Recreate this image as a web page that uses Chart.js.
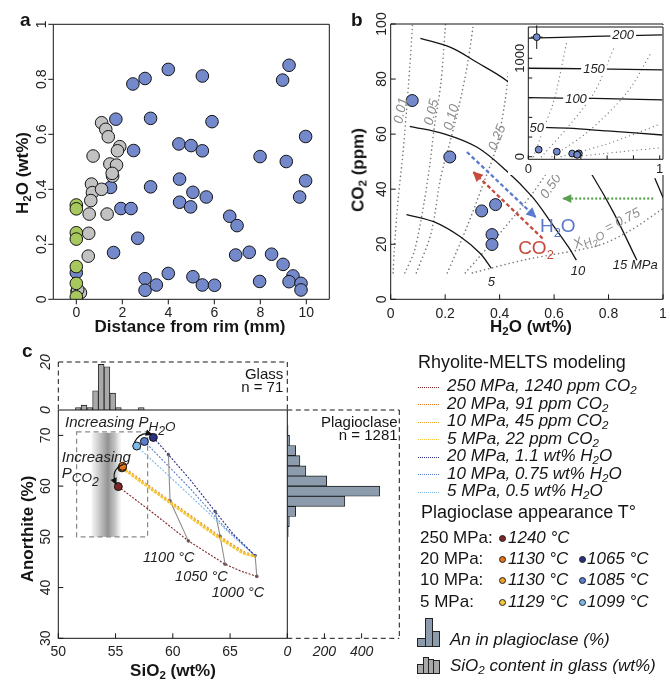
<!DOCTYPE html>
<html lang="en">
<head>
<meta charset="UTF-8">
<title>Figure</title>
<script src="https://cdn.jsdelivr.net/npm/chart.js@4.4.1/dist/chart.umd.min.js"></script>
<style>
  body { margin: 0; background: #fff; }
  #fig { position: relative; width: 670px; height: 680px; overflow: hidden;
         font-family: "Liberation Sans", Arial, sans-serif; color: #151515; }
  #fig canvas { position: absolute; left: 0; top: 0; }
  .t { position: absolute; white-space: nowrap; line-height: 1; }
  .b { font-weight: bold; }
  .i { font-style: italic; }
  .ttl { font-weight: bold; font-size: 17px; }
  .rot { transform: translate(-50%, -50%) rotate(-90deg); }
  .hc { transform: translateX(-50%); }
  sub { font-size: 0.68em; vertical-align: -0.3em; line-height: 0; }
  sub sub { font-size: 0.8em; }
  .ln { position: absolute; width: 21px; height: 0; border-top: 1.3px dotted; }
  .dot { position: absolute; width: 5px; height: 5px; border-radius: 50%; border: 0.8px solid #222; }
  .bar { position: absolute; border: 1px solid #222; box-sizing: border-box; }
</style>
</head>
<body>
<div id="fig">
  <canvas id="ca" width="670" height="680"></canvas>
  <canvas id="cb" width="670" height="680"></canvas>
  <canvas id="cbi" width="670" height="680"></canvas>
  <canvas id="cct" width="670" height="680"></canvas>
  <canvas id="ccr" width="670" height="680"></canvas>
  <canvas id="cc" width="670" height="680"></canvas>

  <div class="t b" style="left:20px;top:10px;font-size:19px">a</div>
  <div class="t b" style="left:351px;top:10px;font-size:19px">b</div>
  <div class="t b" style="left:22px;top:341px;font-size:19px">c</div>

  <div class="t ttl rot" style="left:22px;top:173px">H<sub>2</sub>O (wt%)</div>
  <div class="t ttl hc" style="left:190px;top:318px">Distance from rim (mm)</div>
  <div class="t ttl rot" style="left:358px;top:170px">CO<sub>2</sub> (ppm)</div>
  <div class="t ttl hc" style="left:531px;top:318px">H<sub>2</sub>O (wt%)</div>
  <div class="t ttl rot" style="left:27px;top:529px">Anorthite (%)</div>
  <div class="t ttl hc" style="left:173px;top:662px">SiO<sub>2</sub> (wt%)</div>

  <div id="legend"></div>
</div>

<script>
const W = 670, H = 680;
const FONT = '"Liberation Sans", Arial, sans-serif';

// ---------- panel a : H2O vs distance from rim ----------
const aBlue = [[2.46,0.783],[2.99,0.803],[4.0,0.836],[5.48,0.812],[8.97,0.797],[9.25,0.851],
  [1.72,0.655],[3.23,0.658],[5.9,0.646],[9.97,0.592],[4.46,0.565],[4.99,0.559],[5.48,0.540],
  [2.49,0.541],[7.99,0.519],[9.13,0.501],[4.49,0.437],[9.97,0.431],[3.23,0.409],[1.49,0.407],
  [5.07,0.389],[5.65,0.372],[9.71,0.372],[4.49,0.353],[4.97,0.336],[1.94,0.330],[2.38,0.330],
  [6.67,0.302],[6.99,0.268],[2.67,0.222],[1.62,0.170],[6.93,0.161],[7.52,0.171],[8.49,0.164],
  [8.99,0.127],[9.42,0.085],[9.25,0.064],[9.77,0.058],[9.77,0.034],[7.97,0.065],[4.0,0.094],
  [2.99,0.075],[2.99,0.033],[3.48,0.052],[5.07,0.082],[5.48,0.052],[6.01,0.051],[0,0.097]];
const aGray = [[1.10,0.642],[1.28,0.618],[1.39,0.591],[0.73,0.521],[1.89,0.555],[1.79,0.540],
  [1.46,0.492],[1.75,0.488],[1.58,0.448],[1.56,0.458],[0.66,0.419],[0.70,0.388],[1.10,0.400],
  [0.63,0.359],[0.56,0.310],[1.34,0.310],[0.54,0.240],[0.52,0.157],[0.03,0.028],[0.18,0.024],
  [0.06,0.035]];
const aGreen = [[0,0.343],[0,0.329],[0,0.242],[0,0.219],[0,0.119],[0,0.058],[0,0.009]];
const aXTicks = [0, 2, 4, 6, 8, 10];
const aXLabels = ['0', '2', '4', '6', '8', '10'];
const aYTicks = [0, 0.2, 0.4, 0.6, 0.8, 1];
const aYLabels = ['0', '0.2', '0.4', '0.6', '0.8', '1'];

// ---------- panel b : CO2 vs H2O ----------
const bPoints = [[0.079,72.2],[0.217,51.7],[0.334,32.1],[0.385,34.4],[0.372,23.5],[0.372,19.9]];
const bIsobar5 = [[0.058,30.8],[0.16,28.1],[0.256,22.7],[0.328,16.7],[0.37,11.2]];
const bIsobar10 = [[0.07,62.8],[0.196,60.1],[0.316,55.3],[0.424,46.8],[0.52,37.2],[0.592,27.5],[0.652,19.1],[0.682,14.2]];
const bIsobar15 = [[0.109,94.8],[0.22,91.5],[0.316,86.1],[0.425,79.5],[0.55,69],[0.66,57],[0.748,43.8],[0.82,31.2],[0.904,14.2]];
const bIsobar20 = [[0.97,44],[1.0,37]];
const bX001 = [[0.009,9.6],[0.013,17.9],[0.027,36],[0.045,52.9],[0.058,68.6],[0.07,84.3],[0.079,98.2],[0.082,105]];
const bX005 = [[0.052,9.6],[0.088,17.9],[0.124,36],[0.145,50],[0.16,62.5],[0.184,78.3],[0.2,98.2],[0.205,105]];
const bX010 = [[0.094,9.6],[0.148,23.9],[0.184,44.4],[0.22,58],[0.25,69.8],[0.28,84.3],[0.301,98.2],[0.306,105]];
const bX025 = [[0.208,9.6],[0.28,26.3],[0.34,42],[0.388,55.3],[0.42,72],[0.436,86],[0.454,98.8],[0.46,105]];
const bX050 = [[0.274,9.6],[0.4,23.9],[0.52,38.4],[0.6,50],[0.7,66]];
const bX075 = [[0.3,9.6],[0.5,14.5],[0.76,19.5],[0.88,25],[1.0,33]];
const bArrowH2O = [[0.28,53.5],[0.532,29.9]];
const bArrowCO2 = [[0.558,22.1],[0.304,46.2]];
const bArrowGreen = [[0.964,36.6],[0.634,36.6]];
const bXTicks = [0, 0.2, 0.4, 0.6, 0.8, 1];
const bXLabels = ['0', '0.2', '0.4', '0.6', '0.8', '1'];
const bYTicks = [0, 20, 40, 60, 80, 100];
const bYLabels = ['0', '20', '40', '60', '80', '100'];

// inset of panel b (full CO2 range)
const insetHigh = [[0.064,1215]];
const insetHighErr = [[0.045,120]];
const insetP50 = [[0,302],[0.3,290],[0.6,262],[1.02,221]];
const insetP100 = [[0,600],[0.5,592],[1.02,577]];
const insetP150 = [[0,899],[0.5,893],[1.02,882]];
const insetP200 = [[0,1204],[0.5,1222],[1.02,1238]];
const insetX1 = [[0.04,0],[0.12,300],[0.18,508],[0.216,678],[0.29,1153]];
const insetX2 = [[0.1,0],[0.3,300],[0.5,650],[0.66,1130]];
const insetX3 = [[0.18,0],[0.45,250],[0.75,650],[0.94,1068]];
const insetX4 = [[0.25,0],[0.6,130],[1.0,330]];
const insetX5 = [[0.35,0],[0.7,50],[1.0,90]];
const insetXTicks = [0, 0.2, 0.4, 0.6, 0.8, 1];
const insetXLabels = ['0', '', '', '', '', '1'];
const insetYTicks = [0, 200, 400, 600, 800, 1000];
const insetYLabels = ['0', '', '', '', '', '1000'];

// ---------- panel c : An vs SiO2 (MELTS) ----------
const c250 = [[55.24,59.9],[58.45,54.4],[61.36,49.2],[64.57,44.6],[66.0,43.2],[67.34,42.2]];
const c20co2 = [[55.62,63.9],[59.76,57.1],[64.13,50.1],[66.17,47.1],[67.19,46.3]];
const c10co2 = [[55.6,63.7],[59.8,56.9],[64.2,49.9],[66.3,46.9],[67.2,46.2]];
const c5co2 = [[55.55,63.6],[59.7,56.8],[64.1,49.7],[66.1,46.8],[67.2,46.1]];
const c20h2o = [[58.3,69.6],[59.62,66.2],[61.5,61.3],[63.7,55.0],[65.3,50.5],[67.19,46.3]];
const c10h2o = [[57.52,68.8],[61.36,59.9],[64.57,51.8],[67.19,46.3]];
const c5h2o = [[56.85,67.9],[62.24,56.6],[65.44,49.7],[67.19,46.3]];
const cT1100 = [[59.62,66.2],[59.76,57.1],[61.36,49.2]];
const cT1050 = [[63.7,55.0],[64.13,50.1],[64.57,44.6]];
const cT1000 = [[67.19,46.3],[67.34,42.2]];
const cAppear = [[55.24,59.9],[55.55,63.6],[55.6,63.7],[55.62,63.9],[56.85,67.9],[57.52,68.8],[58.3,69.6]];
const cBand = [52.9, 55.5, 50, 70.5];
const cBox = [51.6, 57.8, 50, 70.7];
const cArrowH2O = [[56.64,68.6],[57.14,70.9],[58.16,70.2]];
const cArrowCO2 = [[55.68,64.3],[54.5,63.2],[55.04,60.4]];
const cXTicks = [50, 55, 60, 65];
const cXLabels = ['50', '55', '60', '65'];
const cYTicks = [30, 40, 50, 60, 70];
const cYLabels = ['30', '40', '50', '60', '70'];

// histograms
const glassBins = [51.75,52.25,52.75,53.25,53.75,54.25,54.75,55.25,57.25];
const glassCounts = [1,2,1,8,19,18,7,1,1];
const plagBins = [51,53,55,57,59,61,63,65,67,69,71];
const plagCounts = [5,11,45,310,498,212,100,68,45,12,4];
const glassYTicks = [0, 20];
const plagXTicks = [0, 200, 400];

// colours
const BLUE = '#7389cb', GRAY = '#c2c2c2', GREEN = '#a6c85c';
const colMelts = {
  r250: '#7e2626', o20: '#e2741e', o10: '#efa22a', o5: '#f4c63a',
  b20: '#2b3180', b10: '#5a7dcc', b5: '#7db9e6'
};

// ---------- helpers ----------
function xy(arr) { return arr.map(p => ({x: p[0], y: p[1]})); }

function parseRich(s) {
  const out = []; let lvl = 0, buf = '';
  const flush = () => { if (buf) { out.push({t: buf, l: lvl}); buf = ''; } };
  for (let i = 0; i < s.length; i++) {
    const c = s[i];
    if (c === '_' && s[i + 1] === '{') { flush(); lvl++; i++; }
    else if (c === '}') { flush(); lvl--; }
    else if (c === '_') { flush(); out.push({t: s[i + 1], l: lvl + 1}); i++; }
    else buf += c;
  }
  flush();
  return out;
}

// draws text with subscripts; o = {size, style, weight, color, align, rot, base, bg, sub}
function drawRich(ctx, s, x, y, o) {
  const parts = parseRich(s);
  const k = o.sub || 0.68;
  const fnt = l => `${o.style || 'normal'} ${o.weight || 'normal'} ${o.size * Math.pow(k, l)}px ${FONT}`;
  let w = 0;
  parts.forEach(p => { ctx.font = fnt(p.l); p.w = ctx.measureText(p.t).width; w += p.w; });
  ctx.save();
  ctx.translate(x, y);
  if (o.rot) ctx.rotate(-o.rot * Math.PI / 180);
  let cx = o.align === 'center' ? -w / 2 : o.align === 'right' ? -w : 0;
  const dy = o.base === 'middle' ? o.size * 0.36 : 0;
  if (o.bg) { ctx.fillStyle = '#fff'; ctx.fillRect(cx - 2, dy - o.size * 0.8, w + 4, o.size * 0.95); }
  ctx.fillStyle = o.color || '#151515';
  ctx.textAlign = 'left'; ctx.textBaseline = 'alphabetic';
  parts.forEach(p => { ctx.font = fnt(p.l); ctx.fillText(p.t, cx, dy + p.l * o.size * 0.28); cx += p.w; });
  ctx.restore();
}

function lineDs(arr, color, width, dash, extra) {
  return Object.assign({data: xy(arr), showLine: true, borderColor: color, borderWidth: width,
    borderDash: dash || [], pointRadius: 0, fill: false, tension: 0}, extra || {});
}
const DOTS = {borderDash: [0.01, 4.2], borderCapStyle: 'round'};

// box + ticks + tick labels, positioned with the chart's own scales
function frame(cfg) {
  return {
    id: 'frame',
    afterDraw(chart) {
      const {ctx, chartArea: a, scales: {x, y}} = chart;
      ctx.save();
      ctx.strokeStyle = '#151515'; ctx.lineWidth = 1;
      const segs = {top: [a.left, a.top, a.right, a.top], right: [a.right, a.top, a.right, a.bottom],
        bottom: [a.left, a.bottom, a.right, a.bottom], left: [a.left, a.top, a.left, a.bottom]};
      for (const k in cfg.edges) {
        const e = cfg.edges[k]; if (!e) continue;
        ctx.setLineDash(e === 'dash' ? [5, 3.5] : []);
        const s = segs[k];
        ctx.beginPath(); ctx.moveTo(s[0], s[1]); ctx.lineTo(s[2], s[3]); ctx.stroke();
      }
      ctx.setLineDash([]);
      const f = cfg.font || {size: 14, color: '#222'};
      if (cfg.xt) cfg.xt.vals.forEach((v, i) => {
        const px = x.getPixelForValue(v);
        if (cfg.xt.len) { ctx.beginPath(); ctx.moveTo(px, a.bottom); ctx.lineTo(px, a.bottom + cfg.xt.len); ctx.stroke(); }
        const lab = cfg.xt.labels[i];
        if (lab) drawRich(ctx, lab, px, a.bottom + cfg.xt.off, Object.assign({align: 'center'}, f));
      });
      if (cfg.yt) cfg.yt.vals.forEach((v, i) => {
        const py = y.getPixelForValue(v);
        if (cfg.yt.len) { ctx.beginPath(); ctx.moveTo(a.left, py); ctx.lineTo(a.left - cfg.yt.len, py); ctx.stroke(); }
        const lab = cfg.yt.labels[i];
        if (lab) drawRich(ctx, lab, a.left - cfg.yt.off, py, Object.assign({align: 'center', rot: 90}, f));
      });
      ctx.restore();
    }
  };
}

function labels(items) {
  return {
    id: 'labels',
    afterDatasetsDraw(chart) {
      const {ctx, scales: {x, y}} = chart;
      items.forEach(it => drawRich(ctx, it.s, x.getPixelForValue(it.x), y.getPixelForValue(it.y), it));
    }
  };
}

function head(ctx, x0, y0, x1, y1, color, size) {
  const ang = Math.atan2(y1 - y0, x1 - x0);
  ctx.save(); ctx.fillStyle = color; ctx.translate(x1, y1); ctx.rotate(ang);
  ctx.beginPath(); ctx.moveTo(1, 0); ctx.lineTo(-size, -size * 0.55); ctx.lineTo(-size, size * 0.55);
  ctx.closePath(); ctx.fill(); ctx.restore();
}

const arrowHeads = {
  id: 'arrowHeads',
  afterDatasetsDraw(chart) {
    chart.data.datasets.forEach((ds, i) => {
      if (!ds.head) return;
      const pts = chart.getDatasetMeta(i).data;
      const p0 = pts[pts.length - 2], p1 = pts[pts.length - 1];
      head(chart.ctx, p0.x, p0.y, p1.x, p1.y, ds.borderColor, ds.head);
    });
  }
};

function makeChart(id, type, area, xr, yr, datasets, plugins, opt) {
  const options = {
    responsive: false, animation: false, events: [],
    layout: {padding: {left: area[0], top: area[1], right: W - area[2], bottom: H - area[3]}},
    plugins: {legend: {display: false}, tooltip: {enabled: false}},
    scales: {
      x: {type: 'linear', min: xr[0], max: xr[1], display: false, offset: false, ticks: {stepSize: xr[2], autoSkip: false}},
      y: {type: 'linear', min: yr[0], max: yr[1], display: false, offset: false, ticks: {stepSize: yr[2], autoSkip: false}}
    }
  };
  Object.assign(options, opt || {});
  return new Chart(document.getElementById(id), {type, data: {datasets}, options, plugins});
}

const pts = (arr, color, r, order) => ({data: xy(arr), backgroundColor: color, borderColor: '#141414',
  borderWidth: 1, pointRadius: r, order});

// ---------- panel a ----------
makeChart('ca', 'scatter', [53.3, 24.3, 329.3, 299.3], [-1, 11, 2], [0, 1, 0.2], [
  pts(aGreen, GREEN, 6.3, 0), pts(aGray, GRAY, 6.3, 1), pts(aBlue, BLUE, 6.3, 2)
], [frame({
  edges: {top: 1, right: 1, bottom: 1, left: 1},
  xt: {vals: aXTicks, labels: aXLabels, len: 5, off: 18},
  yt: {vals: aYTicks, labels: aYLabels, len: 5, off: 7}
})]);

// ---------- panel b ----------
const isoStyle = (arr, w) => lineDs(arr, '#7a7a7a', w || 1.6, null, Object.assign({}, DOTS, {tension: 0.3}));
const barStyle = (arr) => lineDs(arr, '#151515', 1.3, null, {tension: 0.35});
const GL = {size: 13.5, style: 'italic', color: '#8c8c8c', align: 'center', base: 'middle'};
const DL = {size: 13, style: 'italic', color: '#222', align: 'center', base: 'middle'};
makeChart('cb', 'scatter', [390.7, 24, 668.3, 299.3], [0, 1, 0.2], [0, 100, 20], [
  pts(bPoints, BLUE, 6, 0),
  lineDs(bArrowH2O, '#5b7bd0', 2.3, [4, 2.6], {head: 9, order: 1}),
  lineDs(bArrowCO2, '#c54a3c', 2.3, [4, 2.6], {head: 9, order: 1}),
  lineDs(bArrowGreen, '#5aa04e', 2.2, [2, 2], {head: 8, order: 1}),
  barStyle(bIsobar5), barStyle(bIsobar10), barStyle(bIsobar15), barStyle(bIsobar20),
  isoStyle(bX001), isoStyle(bX005), isoStyle(bX010), isoStyle(bX025), isoStyle(bX050), isoStyle(bX075)
], [arrowHeads, labels([
  Object.assign({x: 0.034, y: 68.6, s: '0.01', rot: 78}, GL),
  Object.assign({x: 0.147, y: 68, s: '0.05', rot: 76}, GL),
  Object.assign({x: 0.22, y: 66.2, s: '0.10', rot: 74}, GL),
  Object.assign({x: 0.388, y: 58.9, s: '0.25', rot: 68}, GL),
  Object.assign({x: 0.585, y: 41.2, s: '0.50', rot: 55}, GL),
  Object.assign({x: 0.792, y: 26, s: 'X_{H_2O} = 0.75', rot: 27, sub: 0.85}, GL),
  Object.assign({x: 0.37, y: 6.4, s: '5'}, DL),
  Object.assign({x: 0.688, y: 10.4, s: '10'}, DL),
  Object.assign({x: 0.898, y: 12.6, s: '15 MPa'}, DL),
  {x: 0.548, y: 24.6, s: 'H_2O', size: 19, color: '#5a78c8'},
  {x: 0.468, y: 16.4, s: 'CO_2', size: 19, color: '#c54a3c'}
]), frame({
  edges: {top: 1, right: 1, bottom: 1, left: 1},
  xt: {vals: bXTicks, labels: bXLabels, len: -5, off: 19},
  yt: {vals: bYTicks, labels: bYLabels, len: -5, off: 5}
})]);

// ---------- inset of b ----------
const insetBg = {
  id: 'insetBg',
  beforeDraw(chart) { chart.ctx.save(); chart.ctx.fillStyle = '#fff'; chart.ctx.fillRect(508, 25, 158, 150); chart.ctx.restore(); }
};
const errBars = {
  id: 'errBars',
  beforeDatasetsDraw(chart) {
    const {ctx, scales: {x, y}} = chart;
    ctx.save(); ctx.strokeStyle = '#151515'; ctx.lineWidth = 1;
    insetHigh.forEach((p, i) => {
      const e = insetHighErr[i];
      ctx.beginPath();
      ctx.moveTo(x.getPixelForValue(p[0] - e[0]), y.getPixelForValue(p[1]));
      ctx.lineTo(x.getPixelForValue(p[0] + e[0]), y.getPixelForValue(p[1]));
      ctx.moveTo(x.getPixelForValue(p[0]), y.getPixelForValue(p[1] - e[1]));
      ctx.lineTo(x.getPixelForValue(p[0]), y.getPixelForValue(p[1] + e[1]));
      ctx.stroke();
    });
    ctx.restore();
  }
};
const IL = {size: 13, style: 'italic', color: '#222', align: 'center', base: 'middle', bg: true};
makeChart('cbi', 'scatter', [528.3, 27, 663, 159.3], [0, 1.025, 0.2], [-26, 1318, 200], [
  pts(insetHigh, BLUE, 3.4, 0), pts(bPoints, BLUE, 3.4, 0),
  barStyle(insetP50), barStyle(insetP100), barStyle(insetP150), barStyle(insetP200),
  isoStyle(insetX1, 1.3), isoStyle(insetX2, 1.3), isoStyle(insetX3, 1.3), isoStyle(insetX4, 1.3), isoStyle(insetX5, 1.3)
], [insetBg, errBars, labels([
  Object.assign({x: 0.064, y: 299, s: '50'}, IL),
  Object.assign({x: 0.363, y: 594, s: '100'}, IL),
  Object.assign({x: 0.5, y: 900, s: '150'}, IL),
  Object.assign({x: 0.722, y: 1240, s: '200'}, IL)
]), frame({
  edges: {top: 1, right: 1, bottom: 1, left: 1},
  font: {size: 13, color: '#222'},
  xt: {vals: insetXTicks, labels: insetXLabels, len: -4, off: 14},
  yt: {vals: insetYTicks, labels: insetYLabels, len: -4, off: 4}
})]);

// ---------- panel c, glass histogram (top) ----------
const HF = {size: 14, style: 'italic', color: '#222'};
makeChart('cct', 'bar', [58.3, 362, 287.3, 410], [50, 70, 10], [0, 20, 10], [{
  data: glassBins.map((b, i) => ({x: b, y: glassCounts[i]})),
  backgroundColor: '#a9a9a9', borderColor: '#222', borderWidth: 0.9,
  barPercentage: 1, categoryPercentage: 1
}], [labels([
  {x: 69.65, y: 13.1, s: 'Glass', size: 15, align: 'right'},
  {x: 69.65, y: 7.5, s: 'n = 71', size: 15, align: 'right'}
]), frame({
  edges: {top: 'dash', right: 'dash', left: 'dash'},
  font: HF,
  yt: {vals: glassYTicks, labels: ['0', '20'], len: 0, off: 8}
})]);

// ---------- panel c, plagioclase histogram (right) ----------
makeChart('ccr', 'bar', [287.3, 410, 399.3, 638.3], [0, 603, 200], [30, 75, 10], [{
  data: plagBins.map((b, i) => ({x: plagCounts[i], y: b})),
  backgroundColor: '#8c9cac', borderColor: '#1c1c1c', borderWidth: 0.9,
  barPercentage: 1, categoryPercentage: 1
}], [labels([
  {x: 594, y: 71.7, s: 'Plagioclase', size: 15, align: 'right'},
  {x: 594, y: 69.0, s: 'n = 1281', size: 15, align: 'right'}
]), frame({
  edges: {top: 'dash', right: 'dash', bottom: 'dash'},
  font: HF,
  xt: {vals: plagXTicks, labels: ['0', '200', '400'], len: -5, off: 18}
})], {indexAxis: 'y'});

// ---------- panel c, main ----------
const bandPlugin = {
  id: 'band',
  beforeDatasetsDraw(chart) {
    const {ctx, scales: {x, y}} = chart;
    const x0 = x.getPixelForValue(cBand[0]), x1 = x.getPixelForValue(cBand[1]);
    const y0 = y.getPixelForValue(cBand[3]), y1 = y.getPixelForValue(cBand[2]);
    const g = ctx.createLinearGradient(x0, 0, x1, 0);
    g.addColorStop(0, 'rgba(150,150,150,0.08)');
    g.addColorStop(0.55, 'rgba(140,140,140,0.95)');
    g.addColorStop(0.8, 'rgba(160,160,160,0.6)');
    g.addColorStop(1, 'rgba(190,190,190,0.05)');
    ctx.save();
    ctx.fillStyle = g; ctx.fillRect(x0, y0, x1 - x0, y1 - y0);
    ctx.strokeStyle = '#8a8a8a'; ctx.lineWidth = 1.2; ctx.setLineDash([5, 3.5]);
    const bx0 = x.getPixelForValue(cBox[0]), bx1 = x.getPixelForValue(cBox[1]);
    const by0 = y.getPixelForValue(cBox[3]), by1 = y.getPixelForValue(cBox[2]);
    ctx.strokeRect(bx0, by0, bx1 - bx0, by1 - by0);
    ctx.restore();
  }
};
const curvedArrows = {
  id: 'curvedArrows',
  afterDatasetsDraw(chart) {
    const {ctx, scales: {x, y}} = chart;
    [cArrowH2O, cArrowCO2].forEach(a => {
      const p = a.map(q => [x.getPixelForValue(q[0]), y.getPixelForValue(q[1])]);
      ctx.save(); ctx.strokeStyle = '#111'; ctx.lineWidth = 1.2;
      ctx.beginPath(); ctx.moveTo(p[0][0], p[0][1]);
      ctx.quadraticCurveTo(p[1][0], p[1][1], p[2][0], p[2][1]); ctx.stroke(); ctx.restore();
      head(ctx, p[1][0], p[1][1], p[2][0], p[2][1], '#111', 6);
    });
  }
};
const meltsLine = (arr, color, w, dash) => lineDs(arr, color, w, dash, {order: 2});
const tLine = (arr) => lineDs(arr, '#8e8e8e', 1.1, [], {pointRadius: 1.8, pointBackgroundColor: '#6a6a6a',
  pointBorderWidth: 0, order: 3});
const TL = {size: 14.5, style: 'italic', color: '#222'};
makeChart('cc', 'scatter', [58.3, 410, 287.3, 638.3], [50, 70, 5], [30, 75, 10], [
  {data: xy(cAppear), pointRadius: 4, borderWidth: 1, borderColor: '#141414', order: 0,
    backgroundColor: [colMelts.r250, colMelts.o5, colMelts.o10, colMelts.o20, colMelts.b5, colMelts.b10, colMelts.b20]},
  meltsLine(c5co2, colMelts.o5, 2.6, [3, 1]),
  meltsLine(c10co2, colMelts.o10, 1.3, [2, 2]),
  meltsLine(c20co2, colMelts.o20, 1.2, [1.5, 2.5]),
  meltsLine(c250, colMelts.r250, 1.1, [2, 1.5]),
  meltsLine(c20h2o, colMelts.b20, 1.1, [2, 1.5]),
  meltsLine(c10h2o, colMelts.b10, 1.1, [2, 1.5]),
  meltsLine(c5h2o, colMelts.b5, 1.1, [2, 1.5]),
  tLine(cT1100), tLine(cT1050), tLine(cT1000)
], [bandPlugin, curvedArrows, labels([
  Object.assign({x: 50.59, y: 71.7, s: 'Increasing P_{H_2O}'}, TL, {size: 15, sub: 0.9}),
  Object.assign({x: 50.3, y: 64.8, s: 'Increasing'}, TL, {size: 15}),
  Object.assign({x: 50.3, y: 61.6, s: 'P_{CO_2}'}, TL, {size: 15, sub: 0.9}),
  Object.assign({x: 57.4, y: 45.1, s: '1100 °C'}, TL),
  Object.assign({x: 60.2, y: 41.2, s: '1050 °C'}, TL),
  Object.assign({x: 63.4, y: 38.2, s: '1000 °C'}, TL)
]), frame({
  edges: {top: 1, right: 1, bottom: 1, left: 1},
  xt: {vals: cXTicks, labels: cXLabels, len: -5, off: 18},
  yt: {vals: cYTicks, labels: cYLabels, len: -5, off: 8}
})]);

// ---------- legend (right of panel c) ----------
const meltsNames = ['250 MPa, 1240 ppm CO<sub>2</sub>', '20 MPa, 91 ppm CO<sub>2</sub>',
  '10 MPa, 45 ppm CO<sub>2</sub>', '5 MPa, 22 ppm CO<sub>2</sub>', '20 MPa, 1.1 wt% H<sub>2</sub>O',
  '10 MPa, 0.75 wt% H<sub>2</sub>O', '5 MPa, 0.5 wt% H<sub>2</sub>O'];
const meltsColors = [colMelts.r250, colMelts.o20, colMelts.o10, colMelts.o5, colMelts.b20, colMelts.b10, colMelts.b5];
const appRows = ['250 MPa:', '20 MPa:', '10 MPa:', '5 MPa:'];
const appCO2 = ['1240 °C', '1130 °C', '1130 °C', '1129 °C'];
const appH2O = [null, '1065 °C', '1085 °C', '1099 °C'];
const appColCO2 = [colMelts.r250, colMelts.o20, colMelts.o10, colMelts.o5];
const appColH2O = [null, colMelts.b20, colMelts.b10, colMelts.b5];

let html = '<div class="t" style="left:418px;top:353px;font-size:18px">Rhyolite-MELTS modeling</div>';
meltsNames.forEach((n, i) => {
  const base = 391.7 + i * 17.5;
  html += `<div class="ln" style="left:418px;top:${base - 5}px;border-color:${meltsColors[i]}"></div>`;
  html += `<div class="t i" style="left:447px;top:${base - 14.4}px;font-size:17px">${n}</div>`;
});
html += '<div class="t" style="left:421px;top:503px;font-size:18px">Plagioclase appearance T°</div>';
const appBase = [543.3, 564, 585, 607.7];
appRows.forEach((r, i) => {
  const b = appBase[i];
  html += `<div class="t" style="left:420px;top:${b - 14.4}px;font-size:17px">${r}</div>`;
  html += `<div class="dot" style="left:499px;top:${b - 8.5}px;background:${appColCO2[i]}"></div>`;
  html += `<div class="t i" style="left:508px;top:${b - 14.4}px;font-size:17px">${appCO2[i]}</div>`;
  if (appH2O[i]) {
    html += `<div class="dot" style="left:579px;top:${b - 8.5}px;background:${appColH2O[i]}"></div>`;
    html += `<div class="t i" style="left:587px;top:${b - 14.4}px;font-size:17px">${appH2O[i]}</div>`;
  }
});
// histogram icons
html += '<div class="bar" style="left:417px;top:638px;width:9px;height:9px;background:#8c9cac"></div>';
html += '<div class="bar" style="left:425px;top:618px;width:8px;height:29px;background:#8c9cac"></div>';
html += '<div class="bar" style="left:432px;top:631px;width:8px;height:16px;background:#8c9cac"></div>';
html += '<div class="t i" style="left:450px;top:630.6px;font-size:17px">An in plagioclase (%)</div>';
html += '<div class="bar" style="left:417px;top:664px;width:7px;height:10px;background:#a9a9a9"></div>';
html += '<div class="bar" style="left:423px;top:657px;width:6px;height:17px;background:#a9a9a9"></div>';
html += '<div class="bar" style="left:428px;top:659px;width:6px;height:15px;background:#a9a9a9"></div>';
html += '<div class="bar" style="left:433px;top:660px;width:7px;height:14px;background:#a9a9a9"></div>';
html += '<div class="t i" style="left:450px;top:657px;font-size:17px">SiO<sub>2</sub> content in glass (wt%)</div>';
document.getElementById('legend').innerHTML = html;
</script>
</body>
</html>
